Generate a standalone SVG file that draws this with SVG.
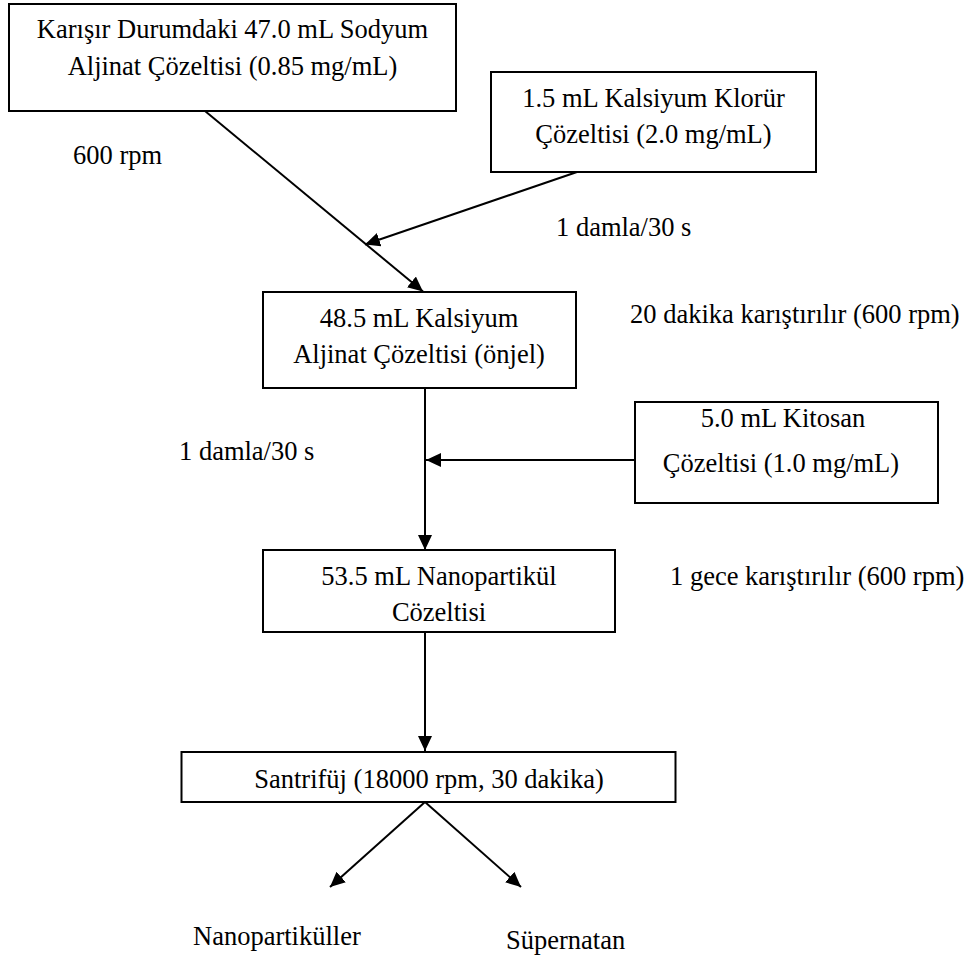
<svg xmlns="http://www.w3.org/2000/svg" width="975" height="958" viewBox="0 0 975 958">
<style>
  .box { fill: #ffffff; stroke: #000000; stroke-width: 2; }
  .t { font-family: "Liberation Serif", "Times New Roman", serif; font-size: 26.5px; fill: #000000; }
  .c { text-anchor: middle; }
  .conn { stroke: #000000; stroke-width: 2; fill: none; marker-end: url(#arrow); }
  .plain { stroke: #000000; stroke-width: 2; fill: none; }
</style>
<defs>
  <marker id="arrow" markerUnits="userSpaceOnUse" markerWidth="16" markerHeight="15" refX="15" refY="7" orient="auto" viewBox="0 0 16 15">
    <path d="M0,0 L15,7 L0,14 z" fill="#000000"/>
  </marker>
</defs>
<rect width="975" height="958" fill="#ffffff"/>

<g id="connectors">
  <line class="conn" x1="205" y1="111" x2="423" y2="291.5"/>
  <line class="conn" x1="577" y1="172" x2="365" y2="244.5"/>
  <line class="conn" x1="425" y1="388" x2="425" y2="550"/>
  <line class="conn" x1="635" y1="460" x2="426" y2="460"/>
  <line class="conn" x1="425" y1="632" x2="425" y2="751"/>
  <line class="conn" x1="425" y1="802" x2="330" y2="887"/>
  <line class="conn" x1="425" y1="802" x2="521" y2="887"/>
</g>

<g id="node-sodyum-aljinat">
  <rect class="box" x="9" y="4" width="447" height="107"/>
  <text class="t c" x="232.5" y="38">Karışır Durumdaki 47.0 mL Sodyum</text>
  <text class="t c" x="232.5" y="75">Aljinat Çözeltisi (0.85 mg/mL)</text>
</g>

<g id="node-kalsiyum-klorur">
  <rect class="box" x="491" y="72" width="325" height="100"/>
  <text class="t c" x="653.5" y="107">1.5 mL Kalsiyum Klorür</text>
  <text class="t c" x="653.5" y="143">Çözeltisi (2.0 mg/mL)</text>
</g>

<g id="node-kalsiyum-aljinat">
  <rect class="box" x="263" y="292" width="313" height="96"/>
  <text class="t c" x="419" y="327">48.5 mL Kalsiyum</text>
  <text class="t c" x="419" y="363">Aljinat Çözeltisi (önjel)</text>
</g>

<g id="node-kitosan">
  <rect class="box" x="635" y="402" width="303" height="101"/>
  <text class="t c" x="783" y="427">5.0 mL Kitosan</text>
  <text class="t c" x="781" y="472">Çözeltisi (1.0 mg/mL)</text>
</g>

<g id="node-nanopartikul">
  <rect class="box" x="263" y="550" width="352" height="82"/>
  <text class="t c" x="439" y="585">53.5 mL Nanopartikül</text>
  <text class="t c" x="439" y="621">Cözeltisi</text>
</g>

<g id="node-santrifuj">
  <rect class="box" x="181.5" y="752" width="494" height="50"/>
  <text class="t c" x="429" y="788">Santrifüj (18000 rpm, 30 dakika)</text>
</g>

<g id="node-nanopartikuller">
  <text class="t" x="193" y="945">Nanopartiküller</text>
</g>

<g id="node-supernatan">
  <text class="t" x="506" y="949">Süpernatan</text>
</g>

<g id="labels">
  <text class="t" x="73" y="164">600 rpm</text>
  <text class="t" x="556" y="236">1 damla/30 s</text>
  <text class="t" x="630" y="323">20 dakika karıştırılır (600 rpm)</text>
  <text class="t" x="179" y="460">1 damla/30 s</text>
  <text class="t" x="670" y="585">1 gece karıştırılır (600 rpm)</text>
</g>
</svg>
